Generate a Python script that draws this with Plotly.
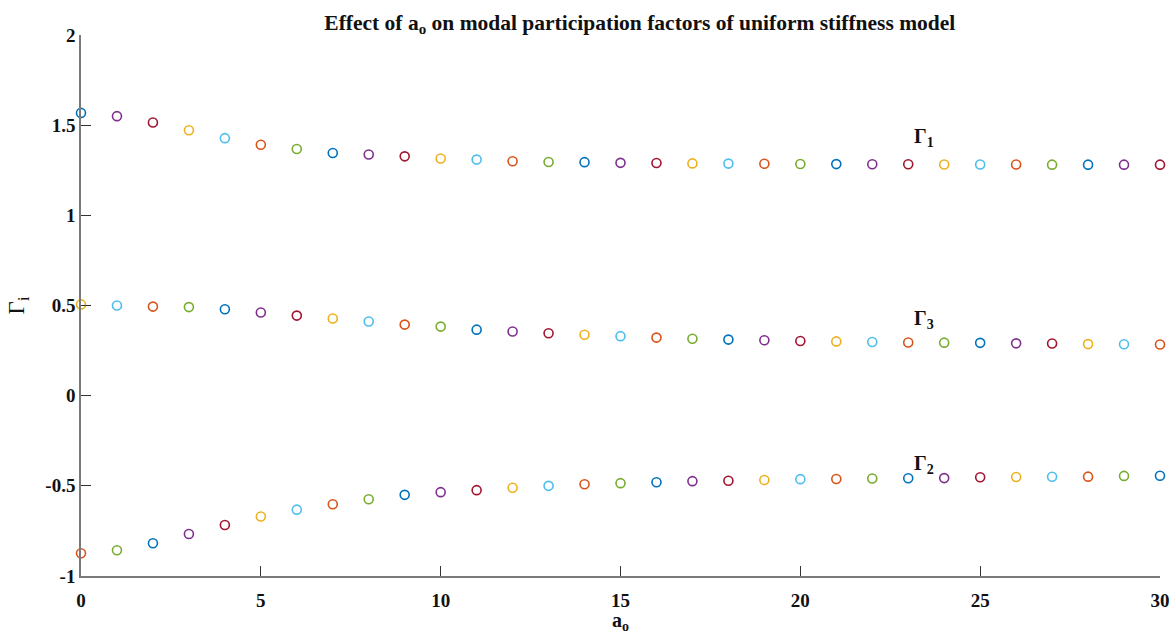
import plotly.graph_objects as go

# Dimensionless frequency a_o
a0 = list(range(31))

# Modal participation factors for the uniform stiffness model
gamma1 = [1.568, 1.550, 1.515, 1.472, 1.428, 1.391, 1.368, 1.346, 1.337, 1.327,
          1.315, 1.309, 1.300, 1.296, 1.295, 1.291, 1.290, 1.288, 1.287, 1.286,
          1.285, 1.284, 1.283, 1.283, 1.282, 1.282, 1.282, 1.281, 1.281, 1.281,
          1.281]
gamma2 = [-0.874, -0.857, -0.818, -0.767, -0.717, -0.670, -0.632, -0.602, -0.574, -0.550,
          -0.535, -0.524, -0.511, -0.500, -0.491, -0.485, -0.480, -0.474, -0.472, -0.468,
          -0.463, -0.462, -0.459, -0.458, -0.457, -0.452, -0.451, -0.450, -0.449, -0.445,
          -0.444]
gamma3 = [0.506, 0.500, 0.494, 0.491, 0.479, 0.461, 0.444, 0.428, 0.411, 0.394,
          0.383, 0.366, 0.356, 0.346, 0.338, 0.330, 0.322, 0.316, 0.311, 0.307,
          0.303, 0.301, 0.298, 0.295, 0.294, 0.293, 0.290, 0.289, 0.286, 0.285,
          0.284]

series = [("Γ<sub>1</sub>", gamma1), ("Γ<sub>2</sub>", gamma2), ("Γ<sub>3</sub>", gamma3)]

# MATLAB default colour order, cycled once per plotted point
color_order = ["#0072BD", "#D95319", "#EDB120", "#7E2F8E", "#77AC30", "#4DBEEE", "#A2142F"]

label_pos = {"Γ<sub>1</sub>": (23.45, 1.43), "Γ<sub>2</sub>": (23.45, -0.38), "Γ<sub>3</sub>": (23.45, 0.42)}

FONT = "Liberation Serif"
INK = "#111111"

fig = go.Figure()
for k, (name, vals) in enumerate(series):
    colors = [color_order[(3 * i + k) % 7] for i in range(len(a0))]
    fig.add_trace(go.Scatter(
        x=a0, y=vals, mode="markers", name=name, showlegend=False,
        cliponaxis=False,
        marker=dict(symbol="circle-open", size=9, color=colors, line=dict(width=1.6, color=colors)),
    ))
    lx, ly = label_pos[name]
    fig.add_annotation(x=lx, y=ly, text=name, showarrow=False,
                       font=dict(family=FONT, size=20, color=INK, weight="bold"))

axis_common = dict(
    showline=True, linecolor="#7a7a7a", linewidth=1.5,
    ticks="inside", ticklen=10, tickwidth=1.2, tickcolor="#333333",
    showgrid=False, zeroline=False, mirror=False, automargin=False,
    tickfont=dict(family=FONT, size=19, color=INK, weight="bold"),
)

fig.update_xaxes(range=[0, 30], tickvals=[0, 5, 10, 15, 20, 25, 30], ticklabelstandoff=6,
                 title=dict(text="a<sub>o</sub>", font=dict(family=FONT, size=20, color=INK, weight="bold"),
                            standoff=4),
                 **axis_common)
fig.update_yaxes(range=[-1, 2], tickvals=[-1, -0.5, 0, 0.5, 1, 1.5, 2],
                 ticktext=["-1", "-0.5", "0", "0.5", "1", "1.5", "2"],
                 title=dict(text="Γ<sub>i</sub>", font=dict(family=FONT, size=23, color=INK), standoff=14),
                 **axis_common)

fig.update_layout(
    width=1174, height=634,
    margin=dict(l=81, r=14, t=35, b=58, autoexpand=False),
    paper_bgcolor="white", plot_bgcolor="white",
    title=dict(text="Effect of a<sub>o</sub> on modal participation factors of uniform stiffness model",
               x=0.545, xanchor="center", y=0.977, yanchor="top",
               font=dict(family=FONT, size=21.5, color=INK, weight="bold")),
)

fig.write_html("out.html")
